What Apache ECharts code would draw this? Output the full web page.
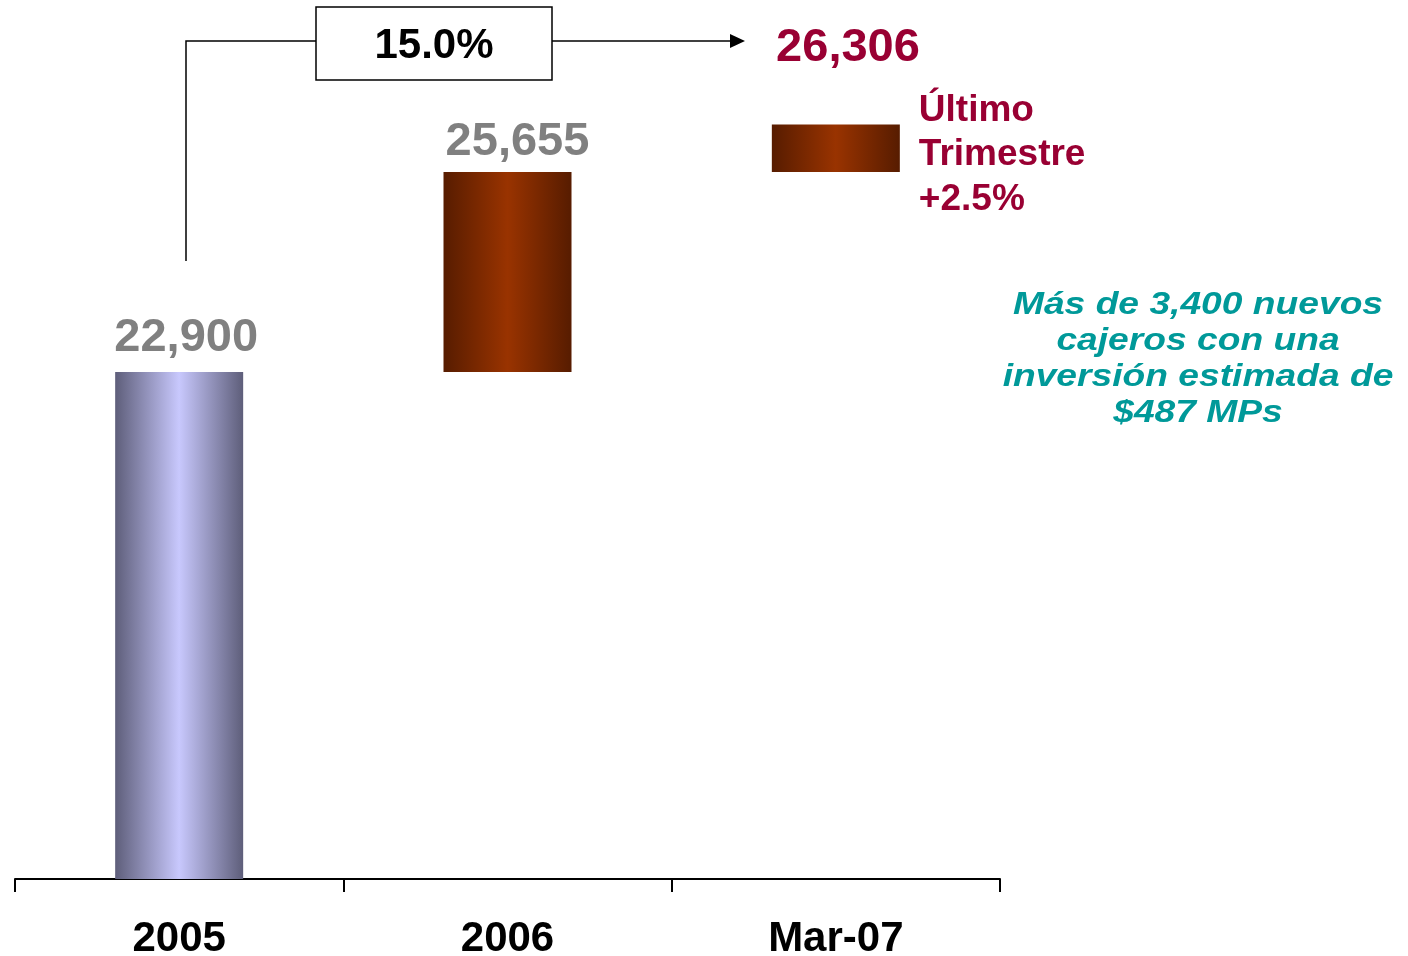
<!DOCTYPE html>
<html>
<head>
<meta charset="utf-8">
<script src="https://cdn.jsdelivr.net/npm/echarts@6/dist/echarts.min.js"></script>
<style>
  html, body { margin: 0; padding: 0; background: #fff; }
  #chart { width: 1408px; height: 956px; }
</style>
</head>
<body>
<div id="chart"></div>
<script>
// Data
const categories = ['2005', '2006', 'Mar-07'];
const totals = [22900, 25655, 26306];
const baseValues = [0, 22900, 25655];
const growthLabel = '15.0%';
const quarterNote = 'Último\nTrimestre\n+2.5%';
const sideNote = 'Más de 3,400 nuevos\ncajeros con una\ninversión estimada de\n$487 MPs';

const FONT = 'Arial, "Liberation Sans", sans-serif';
const increments = totals.map((v, i) => v - baseValues[i]);

function hGrad(edge, mid) {
  return new echarts.graphic.LinearGradient(0, 0, 1, 0, [
    { offset: 0, color: edge },
    { offset: 0.5, color: mid },
    { offset: 1, color: edge }
  ]);
}

const chart = echarts.init(document.getElementById('chart'));

chart.setOption({
  animation: false,
  grid: { left: 15, right: 408, top: 3, bottom: 77, outerBoundsMode: 'none' },
  xAxis: {
    type: 'category',
    data: categories,
    boundaryGap: true,
    axisLine: { lineStyle: { color: '#000', width: 2 } },
    axisTick: { show: true, length: 13, lineStyle: { color: '#000', width: 2 } },
    axisLabel: {
      margin: 39,
      color: '#000',
      fontFamily: FONT,
      fontWeight: 'bold',
      fontSize: 42
    }
  },
  yAxis: {
    type: 'value',
    min: 15920,
    max: 27980,
    show: false,
    splitLine: { show: false }
  },
  series: [
    {
      type: 'bar',
      stack: 'wf',
      data: baseValues,
      barWidth: 128,
      itemStyle: { color: 'transparent' },
      silent: true
    },
    {
      type: 'bar',
      stack: 'wf',
      barWidth: 128,
      data: increments.map((v, i) => ({
        value: v,
        itemStyle: {
          color: i === 0 ? hGrad('#5e5e7a', '#c8c8fd') : hGrad('#571c00', '#993300')
        },
        label: i === 2 ? {
          show: true,
          position: 'right',
          distance: 19,
          offset: [0, 7],
          formatter: quarterNote,
          color: '#990033',
          fontFamily: FONT,
          fontWeight: 'bold',
          fontSize: 37,
          lineHeight: 44.5,
          align: 'left'
        } : {
          show: true,
          position: 'top',
          distance: 12,
          offset: i === 0 ? [7, 2] : [10, 6],
          formatter: () => totals[i].toLocaleString('en-US'),
          color: '#808080',
          fontFamily: FONT,
          fontWeight: 'bold',
          fontSize: 47
        }
      }))
    }
  ],
  graphic: [
    // growth bracket
    { type: 'polyline', shape: { points: [[186, 261], [186, 41], [316, 41]] },
      style: { stroke: '#000', lineWidth: 1.5, fill: null } },
    { type: 'rect', shape: { x: 316, y: 7, width: 236, height: 73 },
      style: { stroke: '#000', lineWidth: 1.5, fill: '#fff' } },
    { type: 'text', x: 434, y: 46,
      style: { text: growthLabel, fill: '#000', font: 'bold 42px ' + FONT,
        textAlign: 'center', textVerticalAlign: 'middle' } },
    { type: 'line', shape: { x1: 552, y1: 41, x2: 733, y2: 41 },
      style: { stroke: '#000', lineWidth: 1.5 } },
    { type: 'polygon', shape: { points: [[730, 34], [745, 41], [730, 48]] },
      style: { fill: '#000' } },
    { type: 'text', x: 848, y: 48,
      style: { text: totals[2].toLocaleString('en-US'), fill: '#990033',
        font: 'bold 47px ' + FONT, textAlign: 'center', textVerticalAlign: 'middle' } },
    // side note
    { type: 'text', x: 1198, y: 359, scaleX: 1.2,
      style: { text: sideNote, fill: '#009999', font: 'italic bold 31px ' + FONT,
        lineHeight: 36, textAlign: 'center', textVerticalAlign: 'middle',
        textShadowColor: '#bbbbbb', textShadowOffsetX: 2, textShadowOffsetY: 2, textShadowBlur: 0 } }
  ]
});
</script>
</body>
</html>
